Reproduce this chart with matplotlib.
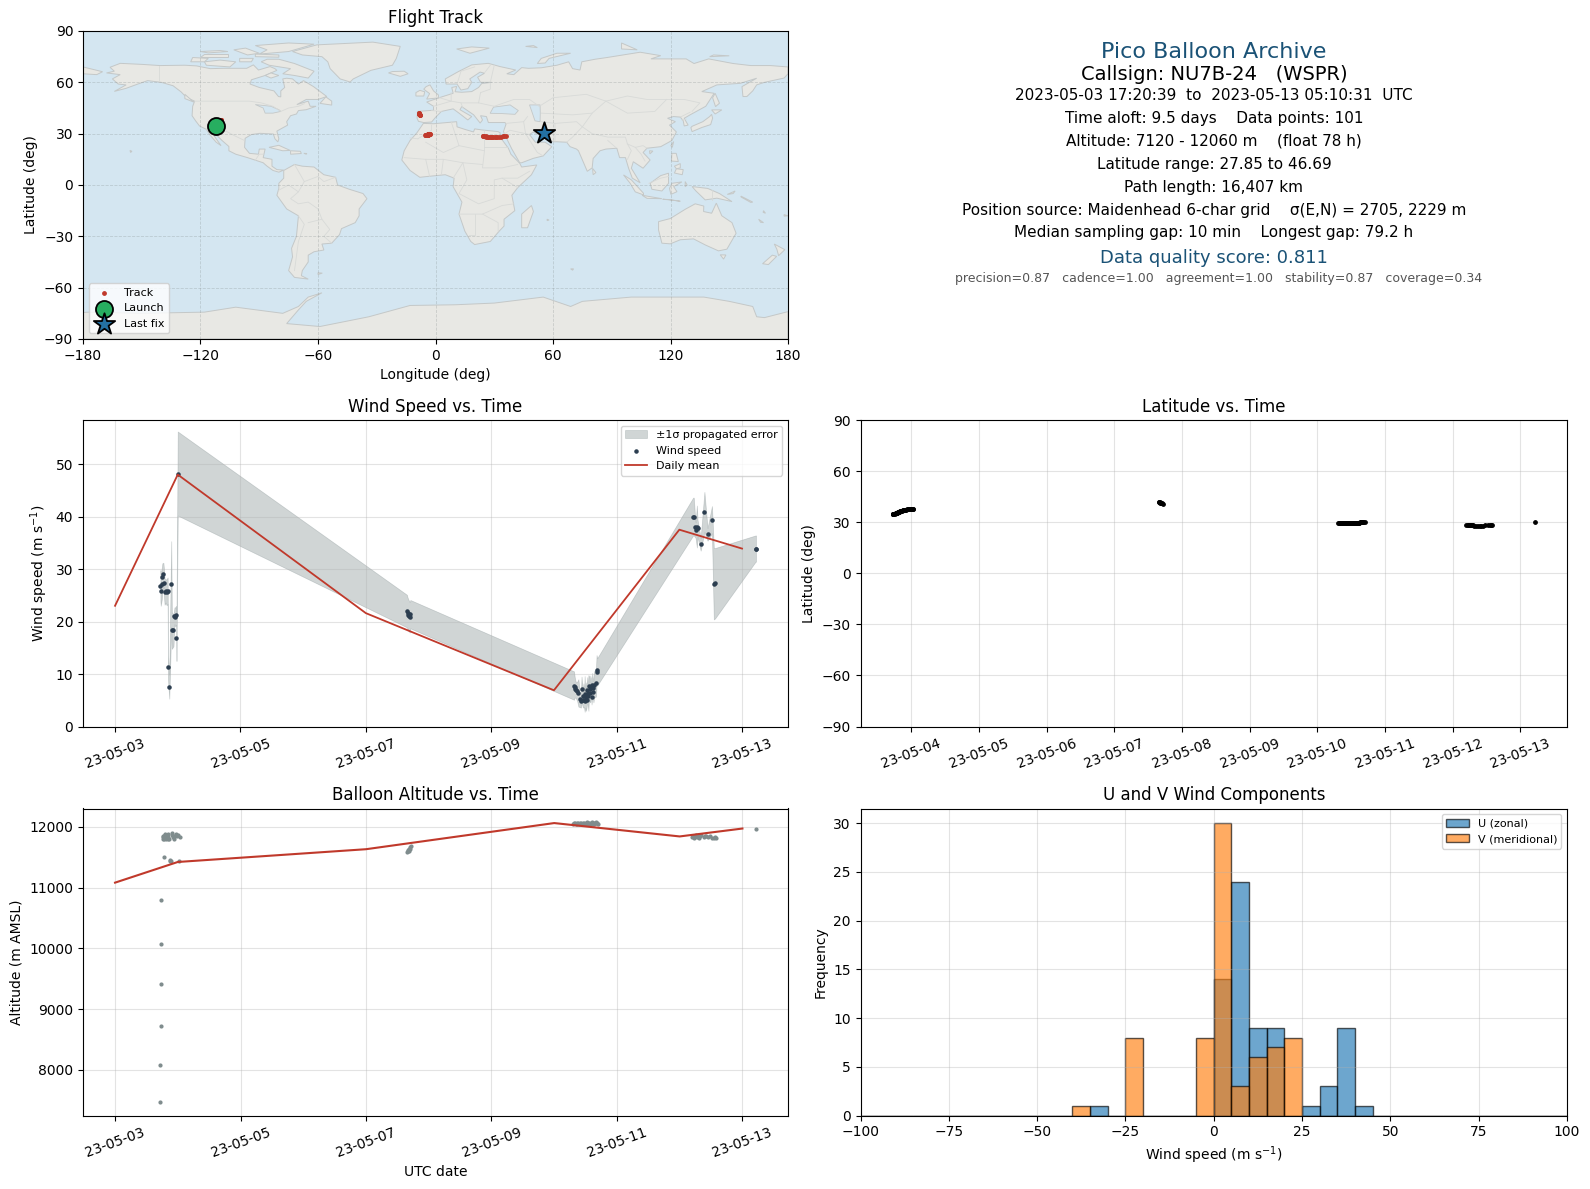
import datetime as dt
import numpy as np
import matplotlib
matplotlib.use("Agg")
import matplotlib.pyplot as plt
import matplotlib.dates as mdates
from matplotlib.patches import Polygon

# track, days after 2023-05-03 00:00 UTC
track_day = [
    .7227, .7241, .7255, .7269, .7283, .7297, .765, .770, .772, .775,
    .778, .780, .785, .789, .792, .795, .800, .806, .812, .818,
    .824, .830, .838, .845, .852, .860, .870, .880, .890, .900,
    .912, .925, .940, .952, .965, .978, .990, 1.005, 1.020, 1.030,
    4.655, 4.662, 4.670, 4.678, 4.686, 4.694, 4.702, 4.712,
    7.30, 7.32, 7.33, 7.34, 7.36, 7.37, 7.38, 7.40, 7.41, 7.42, 7.44,
    7.45, 7.46, 7.47, 7.49, 7.50, 7.51, 7.52, 7.54, 7.55, 7.56, 7.57,
    7.59, 7.60, 7.61, 7.62, 7.63, 7.64, 7.65, 7.66, 7.67, 7.68, 7.70,
    9.20, 9.22, 9.23, 9.25, 9.26, 9.27, 9.28, 9.30, 9.32, 9.34, 9.38,
    9.40, 9.42, 9.45, 9.48, 9.52, 9.55, 9.57, 9.58,
    10.2156]
track_lat = [
    34.6, 34.6, 34.7, 34.7, 34.8, 34.8, 35.0, 35.1, 35.2, 35.2,
    35.3, 35.4, 35.5, 35.6, 35.6, 35.7, 35.8, 35.9, 36.0, 36.1,
    36.2, 36.3, 36.4, 36.5, 36.6, 36.7, 36.9, 37.0, 37.1, 37.2,
    37.3, 37.4, 37.5, 37.6, 37.7, 37.8, 37.8, 37.8, 37.7, 37.5,
    42.0, 41.8, 41.6, 41.4, 41.3, 41.2, 41.0, 40.9,
    29.4, 29.4, 29.4, 29.3, 29.3, 29.4, 29.3, 29.4, 29.3, 29.3, 29.4,
    29.3, 29.4, 29.4, 29.5, 29.4, 29.4, 29.5, 29.5, 29.4, 29.6, 29.6,
    29.7, 29.6, 29.8, 29.8, 29.9, 29.9, 30.0, 29.9, 30.0, 30.0, 29.9,
    28.6, 28.5, 28.5, 28.4, 28.3, 28.3, 28.2, 28.1, 28.0, 27.9, 27.85,
    27.9, 27.9, 28.0, 28.2, 28.2, 28.4, 28.4, 28.5,
    30.3]
track_lon = [
    -112.1, -112.0, -112.0, -111.9, -111.9, -111.8, -111.6, -111.5, -111.5, -111.4,
    -111.4, -111.3, -111.2, -111.1, -111.1, -111.0, -110.9, -110.8, -110.7, -110.6,
    -110.5, -110.4, -110.3, -110.2, -110.1, -110.0, -109.9, -109.8, -109.8, -109.7,
    -109.7, -109.6, -109.6, -109.5, -109.5, -109.5, -109.4, -109.4, -109.4, -109.3,
    -8.3, -8.3, -8.2, -8.2, -8.2, -8.1, -8.1, -8.0,
    -5.2, -5.1, -5.1, -5.0, -4.9, -4.9, -4.8, -4.7, -4.7, -4.6, -4.5,
    -4.5, -4.4, -4.3, -4.2, -4.2, -4.1, -4.0, -3.9, -3.9, -3.8, -3.7,
    -3.6, -3.6, -3.5, -3.4, -3.4, -3.3, -3.2, -3.2, -3.1, -3.0, -2.9,
    24.0, 24.5, 25.0, 25.6, 26.0, 26.6, 27.0, 27.6, 28.2, 28.8, 29.5,
    30.2, 30.9, 31.5, 32.4, 33.4, 34.4, 35.2, 36.0,
    55.4]
track_alt = [
    7480, 8080, 8720, 9420, 10070, 10790, 11830, 11800, 11840, 11500,
    11790, 11850, 11830, 11810, 11860, 11820, 11880, 11790, 11830, 11850,
    11810, 11870, 11790, 11880, 11830, 11790, 11450, 11440, 11440, 11890,
    11860, 11830, 11800, 11850, 11880, 11870, 11840, 11860, 11430, 11830,
    11580, 11600, 11620, 11600, 11640, 11660, 11630, 11680,
    12050, 12060, 12055, 12045, 12060, 12050, 12065, 12040, 12055, 12060, 12045,
    12050, 12065, 12055, 12045, 12060, 12050, 12070, 12055, 12045, 12060, 12050,
    12065, 12055, 12070, 12050, 12060, 12045, 12065, 12055, 12070, 12060, 12050,
    11830, 11850, 11820, 11840, 11860, 11830, 11850, 11820, 11840, 11860, 11830,
    11840, 11850, 11830, 11850, 11820, 11810, 11830, 11810,
    11970]

# wind speed and its error, days after 2023-05-03 00:00 UTC
wind_day = [
    .724, .729, .745, .755, .771, .781, .790, .807, .823, .839,
    .845, .865, .896, .906, .932, .948, .961, .974, .980, 1.000,
    4.655, 4.665, 4.675, 4.69, 4.70, 4.71,
    7.32, 7.33, 7.34, 7.35, 7.37, 7.39, 7.41, 7.43, 7.44, 7.46, 7.47,
    7.48, 7.49, 7.50, 7.51, 7.52, 7.53, 7.54, 7.55, 7.56, 7.57, 7.58,
    7.59, 7.60, 7.61, 7.62, 7.63, 7.64, 7.67, 7.68, 7.69,
    9.22, 9.23, 9.25, 9.26, 9.28, 9.29, 9.34, 9.40, 9.45, 9.52, 9.55, 9.57,
    10.2156, 10.222]
wind_speed = [
    26.8, 25.8, 27.2, 28.5, 29.0, 27.3, 25.7, 25.8, 25.6, 25.9,
    11.3, 7.6, 27.1, 18.3, 18.3, 21.1, 20.9, 21.2, 16.8, 48.2,
    22.0, 21.6, 21.3, 21.0, 20.8, 21.4,
    7.8, 7.5, 7.2, 6.9, 6.7, 6.4, 5.2, 4.9, 7.1, 5.1, 5.9,
    5.1, 6.2, 4.8, 5.7, 5.1, 7.0, 5.9, 6.4, 7.8, 6.3, 7.2,
    7.6, 5.7, 7.9, 7.4, 6.6, 8.0, 8.3, 10.8, 10.4,
    40.0, 40.0, 38.1, 37.4, 38.1, 37.8, 34.7, 40.9, 36.6, 39.4, 27.2, 27.3,
    33.9, 33.9]
wind_sigma = [
    3.0, 2.8, 3.0, 2.6, 2.2, 2.6, 2.5, 2.2, 2.5, 2.5,
    2.4, 2.3, 8.2, 3.5, 3.0, 1.6, 1.8, 1.8, 4.3, 8.0,
    3.1, 3.0, 3.0, 2.9, 2.9, 2.7,
    2.7, 2.0, 1.7, 1.5, 1.8, 2.6, 1.5, 1.3, 2.4, 1.4, 2.3,
    1.4, 3.4, 1.2, 2.7, 1.5, 2.4, 1.8, 3.4, 1.8, 1.7, 2.5,
    1.6, 1.5, 2.3, 1.8, 2.0, 2.5, 2.6, 2.8, 2.6,
    3.6, 3.6, 2.0, 1.5, 4.0, 1.6, 1.2, 3.8, 1.2, 2.6, 6.8, 6.7,
    2.5, 2.5]

# daily means
mean_day = [0, 1, 4, 7, 9, 10]
mean_wind = [23.0, 48.0, 21.6, 6.9, 37.5, 33.9]
mean_alt = [11080, 11420, 11630, 12060, 11840, 11970]

# histogram
hist_edges = np.arange(-100, 105, 5)
hist_left = [-40, -35, -25, -5, 0, 5, 10, 15, 20, 25, 30, 35, 40]
u_counts = [0, 1, 0, 0, 14, 24, 9, 9, 0, 1, 3, 9, 1]
v_counts = [1, 0, 8, 8, 30, 3, 6, 7, 8, 0, 0, 0, 0]

info_lines = [
    "2023-05-03 17:20:39  to  2023-05-13 05:10:31  UTC",
    "Time aloft: 9.5 days    Data points: 101",
    "Altitude: 7120 - 12060 m    (float 78 h)",
    "Latitude range: 27.85 to 46.69",
    "Path length: 16,407 km",
    "Position source: Maidenhead 6-char grid    σ(E,N) = 2705, 2229 m",
    "Median sampling gap: 10 min    Longest gap: 79.2 h",
]

# rough world outlines, lon/lat
land_polys = [
    # north america
    [(-168,65.5),(-164,66.5),(-166.2,68.8),(-161,71.1),(-150,70.5),(-140.6,69.8),(-128,70),(-122,69.6),(-115,68),
     (-108.3,68.2),(-96.4,68.2),(-93,70.2),(-90.4,67.2),(-84.5,69.2),(-82,68),(-81,67),(-87,64),(-94,61.5),(-94.7,59),
     (-90,57),(-82.5,55),(-80.2,51.7),(-79,51.5),(-79,55),(-77,57),(-78,62),(-76,62.4),(-73,62),(-70,59),(-67.4,61),
     (-62.3,57.5),(-55.5,51.7),(-60,50),(-66,50),(-70.8,47),(-65,49),(-64,46),(-61,46),(-66,44),(-70,43.5),(-71,41.5),
     (-74,40.5),(-76,37),(-75.5,35),(-81,31.5),(-80,27),(-80.5,25.2),(-82,27),(-82.8,29.8),(-89.6,30.2),(-94,29.5),
     (-97.2,27.3),(-97.5,22),(-95,18.5),(-90.4,18),(-90,21),(-87,21),(-88,16),(-83.5,15),(-83.5,11),(-81,9),(-77.5,8.7),
     (-80,7.5),(-83,8.5),(-86,11),(-88,13),(-92,14.5),(-96,16),(-102,18),(-105.5,20),(-105.5,22.5),(-109,26),(-112.5,30),
     (-114.7,31.7),(-112,27),(-109.5,23),(-112,25),(-115,29),(-117,32.5),(-120.5,34.5),(-122.5,37.5),(-124.3,40.5),
     (-124,46),(-123,49),(-127,51),(-130,54.5),(-134,58),(-140,60),(-147,61),(-152,59),(-158,56.5),(-164,54.7),
     (-158,58.5),(-162,59),(-165,62),(-161,64.5)],
    # greenland
    [(-73,78),(-60.6,81.9),(-32,83.5),(-18,81),(-20,74),(-22,70),(-33,67),(-42,62),(-43.6,60.2),(-48.7,62),(-53.8,68),
     (-55,72),(-58,75),(-68,76)],
    # arctic canada
    [(-80,73.5),(-72,71),(-62,66.5),(-65,62.5),(-72,64),(-78,65),(-74,68),(-85,70),(-89,72),(-86,73.5)],
    [(-117,70),(-105,69),(-102,72),(-110,73),(-118,72)],
    [(-90,76.5),(-75,78),(-62,82.3),(-75,83),(-92,81.5),(-86,79)],
    [(-125,72),(-118,72),(-116,74),(-124,74.5)],
    [(-92,75),(-80,74.7),(-80,76),(-92,76.5)],
    [(-120,75),(-106,75),(-106,76.5),(-118,76.5)],
    [(-100,72),(-94,72),(-93,74),(-100,74)],
    [(-96,76),(-90,77),(-97,80),(-103,79)],
    [(-116,77.2),(-106,78),(-110,78.6),(-120,78)],
    [(-84,65.5),(-80,64),(-84,62.5),(-87,64)],
    [(-59,47.7),(-53,46.7),(-53,49),(-56,51.5)],
    [(-128,53),(-124,49),(-123.5,48.5),(-128,50.5)],
    # hawaii
    [(-156,20.2),(-155,19.7),(-155.7,19)],
    # south america
    [(-77.5,8.5),(-72,12),(-68,11),(-62,10.5),(-57,6),(-51,4.5),(-50,0),(-44,-2.5),(-37,-5),(-35,-8),(-39,-14),
     (-39,-18),(-41,-22),(-48,-25.5),(-49,-29),(-53,-34),(-58,-34.5),(-57,-38),(-62,-39),(-65,-41),(-65,-45),
     (-68,-50),(-68.5,-53),(-65,-55),(-72,-54),(-75,-50),(-73,-42),(-73.5,-37),(-71,-30),(-70,-18),(-76,-14),
     (-81,-6),(-80,-2),(-80,1),(-77.5,4)],
    # africa
    [(-6.2,36),(-1,35.8),(10.8,37),(11,34),(15,32.5),(19.4,31),(20,32.8),(23.6,32.2),(32,31.2),(33,30.5),(33,28),
     (37.2,21.5),(38.5,18),(43,12.7),(44,10.5),(51.7,11.7),(49,6),(42,-1.5),(39,-6),(40.5,-15),(35,-20),(35,-24),
     (32.5,-27),(28,-33),(20,-34.8),(18,-33),(15,-27),(12,-17),(13.5,-10),(9,-1),(9.5,4),(5,6),(-4,5),(-8,4.5),
     (-13,8.5),(-17.2,14.6),(-16,20),(-13,26),(-9.5,30.5)],
    # eurasia
    [(-8.7,37.2),(-9.4,39),(-9.2,43),(-1,43.7),(-1,46),(-4.5,48.5),(3.2,51.5),(9,53.6),(8.3,57),(10.8,57.6),(10,54.5),
     (13.4,54.2),(18.5,54.6),(22,57),(23.6,59.3),(28.7,60),(23,60),(21.5,63),(25,65.3),(22.8,66),(17.5,62),(18.5,60),
     (16.5,56.3),(13,55.5),(11,59),(5.4,59),(5,62),(11.7,66.3),(18.5,70.2),(27,71.1),(33,69.2),(41,67.2),(36.4,65),
     (40,64.5),(44,68.6),(47.4,68.2),(54,68.5),(62,70),(68,72),(70,68),(73.8,67.2),(74.7,72),(81.5,73.5),(87,74.4),
     (104.5,77.6),(115,75.6),(110,73.7),(120,73.7),(128,73.7),(132,71),(139.5,73.7),(152,71),(161,69.8),(171,69.8),
     (180,69),(180,65),(178,62.5),(168,60),(164,58.5),(162,55),(159,51.7),(157,51.7),(156.5,57.5),(164,62.4),(155.6,59.4),
     (143.7,58.5),(136,54.6),(142.3,53.6),(138,46),(130,41),(127,39),(129,35),(127,34.5),(126.5,37.5),(125,39.7),(121.5,40),
     (118.5,39),(122.5,37),(119.5,35),(123,31),(120.7,26),(115,22.4),(108,21.5),(106,19),(109.6,14.6),(106,9.8),
     (101,13.6),(100,9.8),(104.5,1.3),(100.5,4),(98.6,9.8),(97,16),(94,16),(92.6,21.5),(87,21),(84,20),(80.5,15.5),
     (80,10),(77.5,8),(73,20),(72,21),(68.7,22.4),(67,25),(59.4,25.4),(56.5,27),(50,31),(48,29.5),(51,25),(56,25),
     (59.4,22.4),(55,17),(50,15.6),(44,13),(43,13),(39,21),(36,28),(34.7,31.2),(36,35.5),(35.5,36.5),(27,36.5),
     (26,40),(23,40.5),(24,38),(22.8,36.2),(19.5,41),(13.4,45.8),(12.5,44),(18.5,40),(16.5,38),(12,42),(9,44.5),
     (3,43),(0,39.5),(-2,36.8),(-6,36.5)],
    # chukotka past the date line
    [(-180,69),(-170,66.2),(-173,64.5),(-180,65)],
    # islands
    [(-4.8,57.5),(-2.8,58.5),(-1,55),(1.5,52.6),(1.5,50.9),(-4.5,50.2),(-3,53.4),(-6,56)],
    [(-10,52),(-6,52),(-5.5,54.5),(-8,55.3),(-10,54)],
    [(-24,65.5),(-18,63.5),(-14,65),(-16,66.5),(-22,66.3)],
    [(10.8,79.5),(17.6,77),(27.5,80),(18.5,80.7)],
    [(46,81),(52,80.3),(50,81.5)],
    [(52,71),(56,71.3),(58,74),(69,77),(62,77),(54,74)],
    [(95,83),(103,79),(95,79.5)],
    [(140,75),(150,75.5),(142,76)],
    [(142.8,53.6),(145,47.8),(143,45.8),(141.5,51)],
    [(130.4,33.5),(131,31.2),(136,33.6),(140.5,35.3),(141.5,39),(141,41.3),(140,40),(136.5,37),(131,34.3)],
    [(141,43.9),(146.2,43.9),(142.8,41.5)],
    [(96,5.9),(100,3),(106.2,-4.8),(106.2,-5.8),(102,-4),(99.4,1)],
    [(109.6,1),(115,5.5),(119,6.9),(119,1),(115.6,-3.5),(110.5,-2.5)],
    [(105.5,-6),(115.6,-8),(108,-7.8)],
    [(116,-8.3),(119,-8.5),(125,-9.5),(122,-9)],
    [(120.7,1),(125.8,1.8),(121.6,-0.9),(123.3,-3.9),(120.2,-5.5),(119.5,-2)],
    [(127.5,2),(128.5,0),(127.5,-1)],
    [(131,-0.9),(139,-2),(145,-5),(151.4,-9.7),(143.7,-7.7),(137.7,-8.7),(133,-3.5)],
    [(149,-5.5),(153,-3.5),(152,-5)],
    [(156,-6.5),(162,-10),(161,-10.2),(156,-7)],
    [(167.5,-15),(168.5,-16.5),(167.3,-16)],
    [(165,-20),(167.5,-22),(166,-21.8)],
    [(178,-17.3),(180,-18),(178,-18.2)],
    [(120.7,18.5),(122.9,18.5),(124,13.7),(120.5,14)],
    [(122,11),(125,12.5),(125,10),(123,9.5)],
    [(123,9.5),(126.5,9),(126,6),(122,7)],
    [(44,-25),(47,-25),(50,-15.5),(49,-12),(44,-17)],
    [(113.9,-21.4),(113.9,-26.3),(115.6,-34),(119.9,-34.4),(125,-32),(131.8,-31.5),(137.7,-35),(144.5,-38.5),(148.8,-37.5),
     (153.5,-28.2),(151.4,-22),(146.2,-18),(143.4,-10.6),(141,-16.5),(136.9,-15.5),(137,-12.3),(132.6,-11),(127.5,-14.2),
     (119.9,-19.6)],
    [(145.4,-40.8),(148.3,-40.9),(147.1,-43.3)],
    [(173,-34.5),(178.4,-37.8),(175.2,-41.3),(174.3,-37.5)],
    [(167,-46),(172,-41),(174.2,-41.7),(170,-46.5)],
    [(80.2,9.7),(81.9,7.3),(80.5,6)],
    [(-85,22),(-80,23.2),(-74.2,20.2),(-78,20)],
    [(-74,20),(-69,19.7),(-68.5,18.4),(-74,18)],
    [(-67.2,18.5),(-65.7,18.4),(-66,18)],
    [(121.6,25.4),(120.2,23),(120.9,22)],
    [(109.3,20),(111,19.8),(109.5,18.2)],
    [(57,-20),(58,-20.5),(57,-20.8)],
    [(69,-49),(70.5,-49),(70,-49.8)],
    [(-60,-51.3),(-57.8,-51.5),(-60,-52.3)],
    # antarctica
    [(-180,-90),(180,-90),(180,-74),(168,-77.5),(164,-77),(162,-71),(150,-68),(137,-65.5),(100,-65.5),(75,-68),(69,-71),
     (55,-65.5),(30,-69),(10,-70),(-13,-70.4),(-34,-77),(-59,-82.7),(-76,-81),(-70,-73),(-66,-68),(-58,-63),(-65,-65.5),
     (-70,-71),(-78,-75),(-102,-71.4),(-118,-74.3),(-150,-75),(-177,-74.3),(-180,-74.5)],
]
water_polys = [
    [(27.9,41.9),(29.6,45.5),(33,46),(38.1,46.8),(42.3,43.5),(40.6,41.3),(33,41.8)],
    [(48,46.8),(53.4,46.8),(53.5,41.9),(53.4,37),(50.8,37.5),(49.5,41.9)],
    [(-92,47),(-84,46),(-80,44),(-79,43),(-83,42),(-87,42),(-88,45)],
]
border_lines = [
    [(-123,49),(-95,49),(-89,48),(-83,46),(-79,43),(-75,45),(-70,46),(-67,47.5)],
    [(-141,69.7),(-141,60)],
    [(-117,32.5),(-107,31.5),(-103,29),(-97.5,26)],
    [(-92,14.5),(-90,18),(-88,18)],
    [(-72,12),(-67,2),(-70,-4),(-74,-8),(-70,-11),(-65,-10),(-60,-14),(-58,-20),(-54,-26),(-57,-30),(-53,-34)],
    [(-80,-3),(-75,0),(-70,-4)],
    [(-67,2),(-60,5),(-57,2),(-51,4.5)],
    [(-70,-18),(-67,-23),(-70,-33),(-72,-50)],
    [(-65,-22),(-58,-20)],
    [(-9,27),(-2,32),(-2,35)], [(-9,27),(-13,27.5)], [(-5,25),(4,19),(12,23),(10,30),(8,37)],
    [(12,23),(25,20),(25,31.7)], [(25,22),(37,22)], [(25,20),(24,10),(34,10),(42,12)],
    [(-16,16),(-5,15),(4,15),(14,13),(24,12)], [(14,13),(9,4)], [(-5,15),(-3,5)], [(4,15),(3,6)],
    [(14,13),(16,3),(12,-5),(22,-11),(30,-8),(30,3),(34,4),(42,-1.5)], [(34,4),(42,4),(48,8)],
    [(12,-17),(24,-17),(34,-12),(40,-11)], [(20,-17),(20,-29),(17,-29)], [(24,-17),(32,-22),(32,-27)],
    [(-2,43.5),(3,43)], [(-1,46),(8,49),(8,54)], [(2,51),(8,49),(13,48),(17,48),(22,48),(23,54)],
    [(13,48),(14,45)], [(22,48),(30,46)], [(23,54),(28,56),(28,60)], [(30,46),(40,50),(48,50),(53,46)],
    [(11,59),(13,66.5),(20,69)], [(25,65.5),(28,70)], [(28,60),(30,70)],
    [(47,40),(45,37),(36,36)], [(45,37),(46,30),(48,29.5)], [(46,30),(38,32),(34.5,29.5)], [(46,30),(52,19),(55,17)],
    [(54,37),(61,36),(61,25)], [(61,36),(72,37),(75,34),(70,28),(67,25)], [(54,42),(70,41),(80,42),(87,49)],
    [(53,46),(60,51),(77,53),(87,49),(98,52),(108,50),(118,50),(127,50),(135,48),(131,43)],
    [(87,49),(98,42),(112,43),(118,50)], [(80,42),(75,34),(80,30),(88,28),(97,28),(98,24),(102,22),(106,23),(108,21.5)],
    [(88,26),(92,22)], [(98,24),(100,20),(98,15)], [(102,22),(105,18),(107,14)], [(125,39.7),(130,42.5)], [(126,38),(128,38.5)],
    [(141,-3),(141,-9)], [(109,1),(115,4),(119,5)],
]

dias_base = dt.datetime(2023, 5, 3)


def to_dates(days):
    return [dias_base + dt.timedelta(days=float(d)) for d in days]


W, H = 1590, 1189


def add_ax(left, top, right, bottom):
    return fig.add_axes([left / W, 1 - bottom / H, (right - left) / W, (bottom - top) / H])


def style_date_axis(ax, interval):
    ax.xaxis.set_major_locator(mdates.DayLocator(interval=interval))
    ax.xaxis.set_major_formatter(mdates.DateFormatter("%y-%m-%d"))
    ax.tick_params(axis="x", labelrotation=20)


RED = "#c0392b"
NAVY = "#2c3e50"
GREY = "#7f8c8d"
BLUE_T = "#1a5276"
OCEAN = "#d4e6f1"

fig = plt.figure(figsize=(W / 100, H / 100), dpi=100)

# map
ax_map = add_ax(83, 31, 788, 339)
ax_map.set_facecolor(OCEAN)
for poly in land_polys:
    ax_map.add_patch(Polygon(poly, closed=True, fc="#e8e8e4", ec="#c4c8c8", lw=0.7, zorder=1))
for poly in water_polys:
    ax_map.add_patch(Polygon(poly, closed=True, fc=OCEAN, ec="#c4c8c8", lw=0.6, zorder=1.1))
for line in border_lines:
    xs, ys = zip(*line)
    ax_map.plot(xs, ys, color="#d8dad8", lw=0.6, zorder=1.2)
ax_map.grid(True, color="#808888", alpha=0.3, lw=0.6, ls="--")
ax_map.scatter(track_lon, track_lat, s=6, color=RED, zorder=3, label="Track")
ax_map.scatter(track_lon[0], track_lat[0], s=150, color="#27ae60", edgecolor="black", lw=1.3, zorder=5, label="Launch")
ax_map.scatter(track_lon[-1], track_lat[-1], s=260, marker="*", color="#2471a3", edgecolor="black", lw=1.3, zorder=5, label="Last fix")
ax_map.set_xlim(-180, 180)
ax_map.set_ylim(-90, 90)
ax_map.set_xticks(np.arange(-180, 181, 60))
ax_map.set_yticks(np.arange(-90, 91, 30))
ax_map.set_xlabel("Longitude (deg)")
ax_map.set_ylabel("Latitude (deg)")
ax_map.set_title("Flight Track", fontsize=12)
ax_map.legend(loc="lower left", fontsize=8)

# info text
cx = 1214 / W
fig.text(cx, 1 - 52 / H, "Pico Balloon Archive", ha="center", va="center", fontsize=16, color=BLUE_T)
fig.text(cx, 1 - 75 / H, "Callsign: NU7B-24   (WSPR)", ha="center", va="center", fontsize=14)
for y_px, txt in zip([95.5, 118, 140.5, 164, 187.5, 211, 233], info_lines):
    fig.text(cx, 1 - y_px / H, txt, ha="center", va="center", fontsize=11)
fig.text(cx, 1 - 258 / H, "Data quality score: 0.811", ha="center", va="center", fontsize=13, color=BLUE_T)
fig.text(1218.5 / W, 1 - 278.5 / H, "precision=0.87   cadence=1.00   agreement=1.00   stability=0.87   coverage=0.34",
         ha="center", va="center", fontsize=9, color="#555555")

# wind speed
ax_wind = add_ax(83, 420, 788, 726.5)
wind_dates = to_dates(wind_day)
low = np.array(wind_speed) - np.array(wind_sigma)
high = np.array(wind_speed) + np.array(wind_sigma)
ax_wind.fill_between(wind_dates, low, high, color=GREY, alpha=0.36, lw=0.5, label="±1σ propagated error")
ax_wind.scatter(wind_dates, wind_speed, s=5, color=NAVY, zorder=3, label="Wind speed")
ax_wind.plot(to_dates(mean_day), mean_wind, color=RED, lw=1.3, zorder=4, label="Daily mean")
ax_wind.grid(True, alpha=0.35)
ax_wind.set_ylim(0, 58.4)
ax_wind.set_ylabel("Wind speed (m s$^{-1}$)")
ax_wind.set_title("Wind Speed vs. Time", fontsize=12)
ax_wind.legend(loc="upper right", fontsize=8)
style_date_axis(ax_wind, 2)

# latitude
ax_lat = add_ax(860.5, 420, 1567, 726.5)
ax_lat.scatter(to_dates(track_day), track_lat, s=6, color="black", zorder=3)
ax_lat.grid(True, alpha=0.35)
ax_lat.set_ylim(-90, 90)
ax_lat.set_yticks(np.arange(-90, 91, 30))
ax_lat.set_ylabel("Latitude (deg)")
ax_lat.set_title("Latitude vs. Time", fontsize=12)
style_date_axis(ax_lat, 1)

# altitude
ax_alt = add_ax(83, 808.5, 788, 1115.5)
ax_alt.scatter(to_dates(track_day), track_alt, s=4, color=GREY, zorder=3)
ax_alt.plot(to_dates(mean_day), mean_alt, color=RED, lw=1.5, zorder=4)
ax_alt.grid(True, alpha=0.35)
ax_alt.set_ylabel("Altitude (m AMSL)")
ax_alt.set_xlabel("UTC date")
ax_alt.set_title("Balloon Altitude vs. Time", fontsize=12)
style_date_axis(ax_alt, 2)

# u v histogram
ax_hist = add_ax(860.5, 808.5, 1567, 1115.5)
centers = np.array(hist_left) + 2.5
ax_hist.hist(centers, bins=hist_edges, weights=u_counts, color="#1f77b4", alpha=0.65, edgecolor="black", label="U (zonal)")
ax_hist.hist(centers, bins=hist_edges, weights=v_counts, color="#ff7f0e", alpha=0.65, edgecolor="black", label="V (meridional)")
ax_hist.grid(True, alpha=0.35)
ax_hist.set_xlim(-100, 100)
ax_hist.set_xlabel("Wind speed (m s$^{-1}$)")
ax_hist.set_ylabel("Frequency")
ax_hist.set_title("U and V Wind Components", fontsize=12)
ax_hist.legend(loc="upper right", fontsize=8)

fig.savefig("out.png", dpi=100)
